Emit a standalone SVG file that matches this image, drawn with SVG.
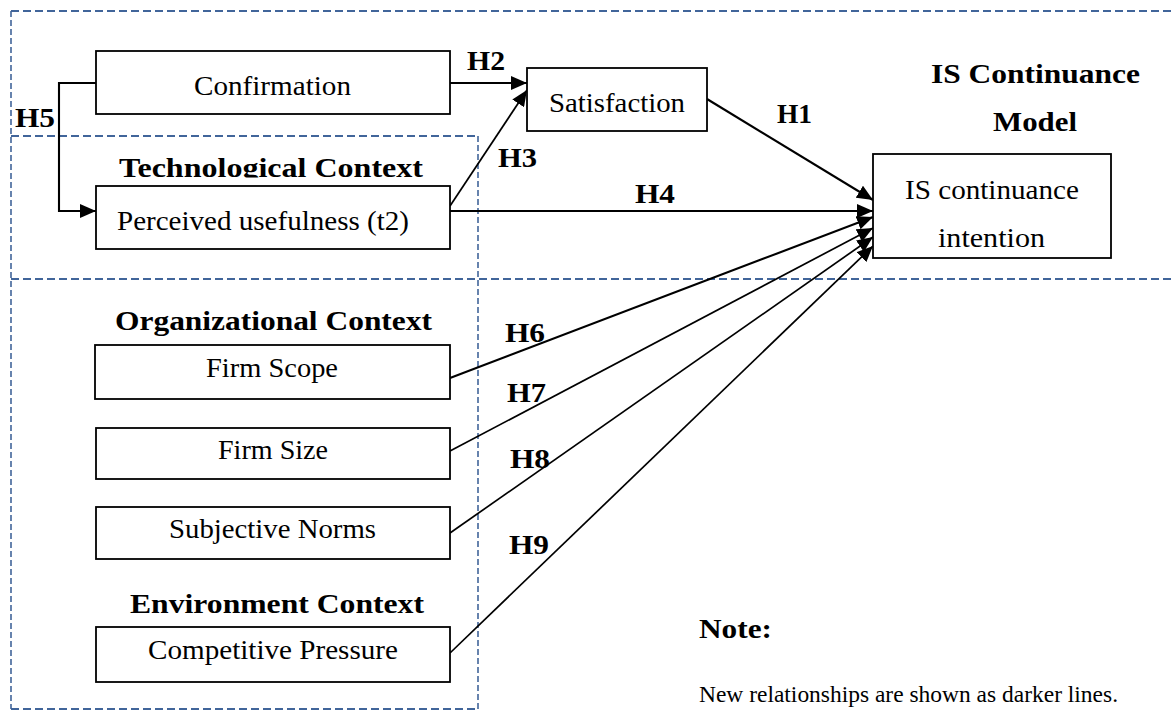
<svg xmlns="http://www.w3.org/2000/svg" width="1175" height="711" viewBox="0 0 1175 711">
<style>
.t{font-family:"Liberation Serif","Times New Roman",serif;font-size:27.5px;fill:#000}
.b{font-weight:bold}
.n{font-size:23px}
.box{fill:#fff;stroke:#000;stroke-width:1.8}
.dh{fill:none;stroke:#41659a;stroke-width:2;stroke-dasharray:8 4}
.dv{fill:none;stroke:#41659a;stroke-width:1.6;stroke-dasharray:6 3}
.c{fill:none;stroke:#000;stroke-width:2.1}
.c2{fill:none;stroke:#000;stroke-width:1.7}
</style>
<defs>
<marker id="ah" markerUnits="userSpaceOnUse" markerWidth="16" markerHeight="14" refX="16" refY="7" orient="auto"><path d="M0,0 L16,7 L0,14 z" fill="#000"/></marker>
<clipPath id="clipTech"><rect x="0" y="0" width="1175" height="177.5"/></clipPath>
</defs>
<rect width="1175" height="711" fill="#fff"/>
<g id="frames">
<line class="dh" x1="11" y1="11" x2="1175" y2="11"/>
<line class="dh" x1="11" y1="279" x2="1175" y2="279"/>
<line class="dv" x1="11" y1="11" x2="11" y2="709"/>
<line class="dh" x1="11" y1="136" x2="478" y2="136"/>
<line class="dv" x1="478" y1="136" x2="478" y2="709"/>
<line class="dh" x1="11" y1="709" x2="478" y2="709"/>
</g>
<g id="connectors">
<path class="c" d="M96,83 H59 V211 H96" marker-end="url(#ah)"/>
<line class="c" x1="450" y1="83" x2="527" y2="83" marker-end="url(#ah)"/>
<line class="c2" x1="450" y1="206" x2="527" y2="90" marker-end="url(#ah)"/>
<line class="c" x1="450" y1="211" x2="873" y2="211" marker-end="url(#ah)"/>
<line class="c" x1="707" y1="99" x2="873" y2="200" marker-end="url(#ah)"/>
<line class="c" x1="450" y1="378" x2="873" y2="217" marker-end="url(#ah)"/>
<line class="c2" x1="450" y1="451" x2="873" y2="228" marker-end="url(#ah)"/>
<line class="c2" x1="450" y1="533" x2="873" y2="237" marker-end="url(#ah)"/>
<line class="c2" x1="450" y1="653" x2="873" y2="246" marker-end="url(#ah)"/>
</g>
<g id="labels">
<text class="t b" x="15" y="127" textLength="40" lengthAdjust="spacingAndGlyphs">H5</text>
<text class="t b" x="467" y="70" textLength="38" lengthAdjust="spacingAndGlyphs">H2</text>
<text class="t b" x="498" y="167" textLength="39" lengthAdjust="spacingAndGlyphs">H3</text>
<text class="t b" x="635" y="203" textLength="40" lengthAdjust="spacingAndGlyphs">H4</text>
<text class="t b" x="777" y="123" textLength="35" lengthAdjust="spacingAndGlyphs">H1</text>
<text class="t b" x="505" y="342" textLength="40" lengthAdjust="spacingAndGlyphs">H6</text>
<text class="t b" x="507" y="402" textLength="39" lengthAdjust="spacingAndGlyphs">H7</text>
<text class="t b" x="510" y="468" textLength="40" lengthAdjust="spacingAndGlyphs">H8</text>
<text class="t b" x="509" y="554" textLength="40" lengthAdjust="spacingAndGlyphs">H9</text>
</g>
<g id="headings">
<text class="t b" x="119" y="177" textLength="304" lengthAdjust="spacingAndGlyphs" clip-path="url(#clipTech)">Technological Context</text>
<text class="t b" x="931" y="83" textLength="209" lengthAdjust="spacingAndGlyphs">IS Continuance</text>
<text class="t b" x="993" y="131" textLength="84" lengthAdjust="spacingAndGlyphs">Model</text>
<text class="t b" x="115" y="330" textLength="317" lengthAdjust="spacingAndGlyphs">Organizational Context</text>
<text class="t b" x="130" y="613" textLength="294" lengthAdjust="spacingAndGlyphs">Environment Context</text>
</g>
<g id="confirmation">
<rect class="box" x="96" y="51" width="354" height="63"/>
<text class="t" x="194" y="95" textLength="157" lengthAdjust="spacingAndGlyphs">Confirmation</text>
</g>
<g id="perceived-usefulness">
<rect class="box" x="96" y="186" width="354" height="63"/>
<text class="t" x="117" y="230" textLength="292" lengthAdjust="spacingAndGlyphs">Perceived usefulness (t2)</text>
</g>
<g id="satisfaction">
<rect class="box" x="527" y="68" width="180" height="63"/>
<text class="t" x="549" y="112" textLength="136" lengthAdjust="spacingAndGlyphs">Satisfaction</text>
</g>
<g id="is-continuance-intention">
<rect class="box" x="873" y="154" width="238" height="104"/>
<text class="t" x="905" y="199" textLength="174" lengthAdjust="spacingAndGlyphs">IS continuance</text>
<text class="t" x="938" y="247" textLength="107" lengthAdjust="spacingAndGlyphs">intention</text>
</g>
<g id="firm-scope">
<rect class="box" x="95" y="345" width="355" height="54"/>
<text class="t" x="206" y="377" textLength="132" lengthAdjust="spacingAndGlyphs">Firm Scope</text>
</g>
<g id="firm-size">
<rect class="box" x="96" y="428" width="354" height="51"/>
<text class="t" x="218" y="459" textLength="110" lengthAdjust="spacingAndGlyphs">Firm Size</text>
</g>
<g id="subjective-norms">
<rect class="box" x="96" y="507" width="354" height="52"/>
<text class="t" x="169" y="538" textLength="207" lengthAdjust="spacingAndGlyphs">Subjective Norms</text>
</g>
<g id="competitive-pressure">
<rect class="box" x="96" y="627" width="354" height="55"/>
<text class="t" x="148" y="659" textLength="250" lengthAdjust="spacingAndGlyphs">Competitive Pressure</text>
</g>
<g id="note">
<text class="t b" x="699" y="638" textLength="73" lengthAdjust="spacingAndGlyphs">Note:</text>
<text class="t n" x="699" y="702" textLength="419" lengthAdjust="spacingAndGlyphs">New relationships are shown as darker lines.</text>
</g>
</svg>
